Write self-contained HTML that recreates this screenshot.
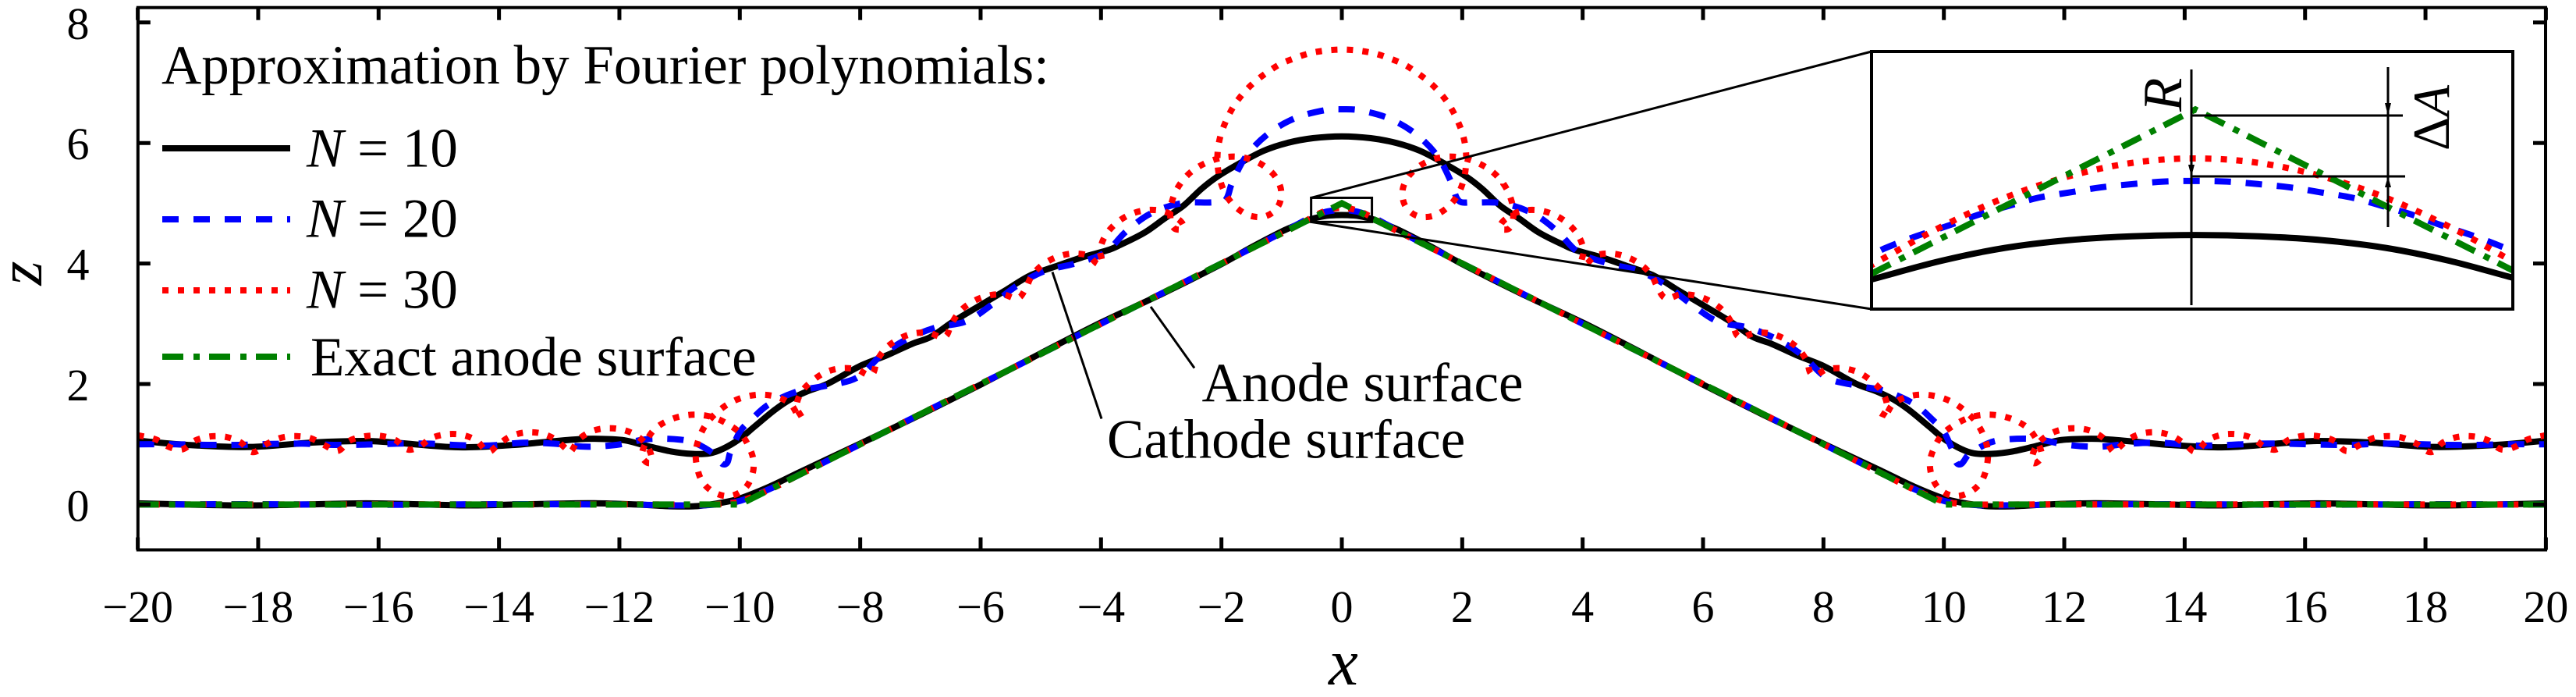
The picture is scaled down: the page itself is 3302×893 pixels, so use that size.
<!DOCTYPE html>
<html lang="en">
<head>
<meta charset="utf-8">
<title>Approximation by Fourier polynomials</title>
<style>
html,body{margin:0;padding:0;background:#fff;overflow:hidden;}
svg{display:block;}
text{font-family:"Liberation Serif","Times New Roman",serif;fill:#000;}
.tick-label{font-size:58px;text-anchor:middle;}
.note{font-size:71px;}
.it{font-style:italic;}
.s10{fill:none;stroke:#000;stroke-width:8;}
.s20{fill:none;stroke:#0000ff;stroke-width:8;stroke-dasharray:21 19;}
.s30{fill:none;stroke:#ff0000;stroke-width:8;stroke-dasharray:8 12;}
.sex{fill:none;stroke:#008000;stroke-width:8;stroke-dasharray:27 13 8 12;}
.thin{stroke:#000;stroke-width:3;fill:none;}
</style>
</head>
<body>
<svg id="chart" xmlns="http://www.w3.org/2000/svg" width="3302" height="893" viewBox="0 0 3302 893">
  <defs>
    <clipPath id="main-clip"><rect x="177" y="10" width="3086" height="695"/></clipPath>
    <clipPath id="inset-clip"><rect x="2399" y="66" width="822" height="330"/></clipPath>
  </defs>
  <rect x="0" y="0" width="3302" height="893" fill="#fff"/>
  <g id="main-series" clip-path="url(#main-clip)"></g>
  <g id="axes"></g>

  <text class="it" x="1722" y="877" font-size="85" text-anchor="middle">x</text>
  <text class="it" font-size="80" text-anchor="middle" transform="translate(53,350) rotate(-90)">z</text>

  <g>
    <text class="note" x="207" y="107">Approximation by Fourier polynomials:</text>
    <line class="s10" x1="208" y1="190" x2="372" y2="190"/>
    <text class="note" x="393" y="213.5"><tspan class="it">N</tspan> = 10</text>
    <line class="s20" x1="208" y1="281" x2="372" y2="281"/>
    <text class="note" x="393" y="303.5"><tspan class="it">N</tspan> = 20</text>
    <line class="s30" x1="208" y1="372" x2="372" y2="372"/>
    <text class="note" x="393" y="394.5"><tspan class="it">N</tspan> = 30</text>
    <line class="sex" x1="208" y1="457" x2="372" y2="457"/>
    <text class="note" x="398" y="481">Exact anode surface</text>
  </g>

  <line class="thin" x1="1349" y1="348.5" x2="1412" y2="536.5"/>
  <line class="thin" x1="1475" y1="393" x2="1531" y2="471.5"/>
  <text class="note" x="1540.5" y="514">Anode surface</text>
  <text class="note" x="1419" y="586.5">Cathode surface</text>

  <g id="zoom-callout"></g>

  <rect x="2399" y="66" width="822" height="330" fill="#fff"/>
  <g id="inset-series" clip-path="url(#inset-clip)"></g>
  <rect x="2399" y="66" width="822" height="330" fill="none" stroke="#000" stroke-width="4"/>

  <g>
    <line class="thin" x1="2809" y1="89" x2="2809" y2="391"/>
    <line class="thin" x1="3061" y1="86" x2="3061" y2="291"/>
    <line class="thin" x1="2809" y1="148" x2="3080" y2="148"/>
    <line class="thin" x1="2809" y1="226" x2="3083" y2="226"/>
    <polygon points="2809,226 2805,211 2813,211" fill="#000"/>
    <polygon points="3061,148 3057,132 3065,132" fill="#000"/>
    <polygon points="3061,226 3057,240 3065,240" fill="#000"/>
    <text class="note it" transform="translate(2796,143) rotate(-90)">R</text>
    <text font-size="67" transform="translate(3139,193) rotate(-90)">Δ<tspan class="it">A</tspan></text>
  </g>
</svg>

<script>
/* axis tick values */
const xTicks = [-20,-18,-16,-14,-12,-10,-8,-6,-4,-2,0,2,4,6,8,10,12,14,16,18,20];
const zTicks = [0,2,4,6,8];
const xTickLabels = ["\u221220","\u221218","\u221216","\u221214","\u221212","\u221210","\u22128","\u22126","\u22124","\u22122","0","2","4","6","8","10","12","14","16","18","20"];
const zTickLabels = ["0","2","4","6","8"];

/* exact anode (lower ridge) */
const exactSurface = [[-20,0],[-10,0],[0,5],[10,0],[20,0]];

/* cathode-side curves: [x, z] */
const n10Lower = [[-20,.02],[-19.2,0],[-18.2,-.015],[-17,.005],[-16.2,.02],[-15.2,0],[-14.5,-.015],[-13.5,.005],[-12.5,.022],[-11.7,0],[-11.1,-.03],[-10.7,-.025],[-10.3,.03],[-10,.1],[-9.5,.3],[-9,.54],[-8,1.01],[-7,1.49],[-6,1.99],[-5,2.51],[-4,3.02],[-3,3.49],[-2,3.99],[-1.5,4.27],[-1,4.53],[-.7,4.66],[-.51,4.736],[-.4,4.765],[-.3,4.785],[-.2,4.797],[-.1,4.803],[0,4.805],
[.1,4.803],[.2,4.797],[.3,4.785],[.4,4.765],[.51,4.736],[.7,4.66],[1,4.53],[1.5,4.27],[2,3.99],[3,3.49],[4,3.02],[5,2.51],[6,1.99],[7,1.49],[8,1.01],[9,.54],[9.5,.3],[10,.1],[10.3,.03],[10.7,-.025],[11.1,-.03],[11.7,0],[12.5,.022],[13.5,.005],[14.5,-.015],[15.2,0],[16.2,.02],[17,.005],[18.2,-.015],[19.2,0],[20,.02]];

const n20Lower = [[-20,0],[-18,.005],[-16,-.005],[-14,.005],[-12,0],[-10.8,-.015],[-10.4,0],[-10,.06],[-9.5,.26],[-9,.5],[-8,1],[-7,1.5],[-6,2],[-5,2.5],[-4,3],[-3,3.5],[-2,4],[-1,4.51],[-.6,4.725],[-.49,4.784],[-.44,4.803],[-.388,4.82],[-.34,4.837],[-.295,4.85],[-.247,4.863],[-.199,4.871],[-.149,4.879],[-.1,4.884],[-.05,4.888],[0,4.889],
[.05,4.888],[.1,4.884],[.149,4.879],[.199,4.871],[.247,4.863],[.295,4.85],[.34,4.837],[.388,4.82],[.44,4.803],[.49,4.784],[.6,4.725],[1,4.51],[2,4],[3,3.5],[4,3],[5,2.5],[6,2],[7,1.5],[8,1],[9,.5],[9.5,.26],[10,.06],[10.4,0],[10.8,-.015],[12,0],[14,.005],[16,-.005],[18,.005],[20,0]];

const n30Lower = [[-20,0],[-18,0],[-16,.003],[-14,0],[-12,.003],[-10.5,0],[-10.2,.02],[-10,.05],[-9.5,.25],[-9,.5],[-8,1],[-7,1.5],[-6,2],[-5,2.5],[-4,3],[-3,3.5],[-2,4],[-1,4.5],[-.7,4.65],[-.5,4.764],[-.4,4.818],[-.3,4.863],[-.2,4.896],[-.1,4.917],[0,4.924],
[.1,4.917],[.2,4.896],[.3,4.863],[.4,4.818],[.5,4.764],[.7,4.65],[1,4.5],[2,4],[3,3.5],[4,3],[5,2.5],[6,2],[7,1.5],[8,1],[9,.5],[9.5,.25],[10,.05],[10.2,.02],[10.5,0],[12,.003],[14,0],[16,.003],[18,0],[20,0]];

/* anode-side approximations: [x, z] */
const n10Upper = [[-20,1.06],[-19.18,.99],[-18.14,.955],[-17.07,1.03],[-16.2,1.054],[-15.77,1.03],[-14.68,.95],[-13.74,.99],[-13.31,1.03],[-12.66,1.085],[-12.35,1.09],[-11.92,1.067],[-11.57,.98],[-11.14,.88],[-10.79,.84],[-10.5,.85],[-10.28,.925],[-10.02,1.076],[-9.76,1.29],[-9.42,1.57],[-9.16,1.745],[-8.9,1.87],[-8.55,2.0],[-8.0,2.3],[-7.55,2.48],[-7.13,2.67],[-6.83,2.78],[-6.48,3.02],[-6.05,3.28],[-5.61,3.54],[-5.18,3.8],[-4.76,3.95],[-4.32,4.1],[-3.89,4.22],[-3.72,4.29],[-3.28,4.51],[-2.94,4.75],[-2.63,4.96],[-2.33,5.24],[-2.07,5.44],[-1.72,5.65],[-1.3,5.87],[-.91,6.0],[-.48,6.08],[0,6.11],
[.48,6.08],[.91,6.0],[1.3,5.87],[1.72,5.65],[2.07,5.44],[2.33,5.24],[2.63,4.96],[2.94,4.75],[3.28,4.51],[3.72,4.29],[3.89,4.22],[4.32,4.1],[4.76,3.95],[5.18,3.8],[5.61,3.54],[6.05,3.28],[6.48,3.02],[6.83,2.78],[7.13,2.67],[7.55,2.48],[8.0,2.3],[8.55,2.0],[8.9,1.87],[9.16,1.745],[9.42,1.57],[9.76,1.29],[10.02,1.076],[10.28,.925],[10.5,.85],[10.79,.84],[11.14,.88],[11.57,.98],[11.92,1.067],[12.35,1.09],[12.66,1.085],[13.31,1.03],[13.74,.99],[14.68,.95],[15.77,1.03],[16.2,1.054],[17.07,1.03],[18.14,.955],[19.18,.99],[20,1.06]];

const n20Upper = [[-20,1],[-19.35,1],[-18.84,.99],[-18.32,.99],[-17.78,1.005],[-17.26,1.01],[-16.74,.99],[-16.22,.995],[-15.7,1.01],[-15.17,1.01],[-14.65,.985],[-14.15,.98],[-13.6,1.025],[-13.09,1.01],[-12.57,.96],[-12.05,.99],[-11.53,1.085],[-10.98,1.076],[-10.72,1.01],[-10.41,.825],[-10.25,.666],[-10.16,.86],[-10.0,1.206],[-9.82,1.4],[-9.52,1.66],[-9.05,1.875],[-8.55,1.975],[-8.056,2.104],[-7.645,2.48],[-7.235,2.739],[-6.76,2.933],[-6.24,3.04],[-5.81,3.32],[-5.4,3.63],[-4.94,3.874],[-4.43,4.0],[-3.93,4.185],[-3.585,4.53],[-3.175,4.83],[-2.665,5.0],[-2.147,5.014],[-1.944,5.04],[-1.827,5.329],[-1.59,5.78],[-1.227,6.15],[-.78,6.41],[-.272,6.547],[0,6.56],
[.272,6.547],[.78,6.41],[1.227,6.15],[1.59,5.78],[1.827,5.329],[1.944,5.04],[2.147,5.014],[2.665,5.0],[3.175,4.83],[3.585,4.53],[3.93,4.185],[4.43,4.0],[4.94,3.874],[5.4,3.63],[5.81,3.32],[6.24,3.04],[6.76,2.933],[7.235,2.739],[7.645,2.48],[8.056,2.104],[8.55,1.975],[9.05,1.875],[9.52,1.66],[9.82,1.4],[10.0,1.206],[10.16,.86],[10.25,.666],[10.41,.825],[10.72,1.01],[10.98,1.076],[11.53,1.085],[12.05,.99],[12.57,.96],[13.09,1.01],[13.6,1.025],[14.15,.98],[14.65,.985],[15.17,1.01],[15.7,1.01],[16.22,.995],[16.74,.99],[17.26,1.01],[17.78,1.005],[18.32,.99],[18.84,.99],[19.35,1],[20,1]];

const n30Upper = [[-20,1.15],[-19.7,1.08],[-19.48,.955],[-19.26,.915],[-19.05,1.06],[-18.79,1.13],[-18.53,1.12],[-18.29,1.03],[-18.09,.87],[-17.87,1.0],[-17.63,1.105],[-17.38,1.135],[-17.13,1.1],[-16.89,.98],[-16.68,.89],[-16.49,1.055],[-16.24,1.13],[-15.98,1.14],[-15.72,1.07],[-15.52,.915],[-15.33,.955],[-15.13,1.1],[-14.87,1.165],[-14.61,1.155],[-14.37,1.06],[-14.18,.88],[-14.04,.97],[-13.83,1.12],[-13.585,1.193],[-13.317,1.184],[-13.08,1.09],[-12.885,.925],[-12.82,.87],[-12.68,1.076],[-12.46,1.215],[-12.21,1.266],[-11.94,1.24],[-11.71,1.14],[-11.53,.96],[-11.48,.7],[-11.62,.787],[-11.56,1.03],[-11.42,1.245],[-11.2,1.39],[-10.95,1.47],[-10.69,1.49],[-10.43,1.443],[-10.2,1.335],[-9.99,1.18],[-9.85,.964],[-9.77,.714],[-9.805,.455],[-9.94,.243],[-10.18,.14],[-10.43,.204],[-10.62,.377],[-10.71,.619],[-10.73,.882],[-10.665,1.133],[-10.54,1.361],[-10.36,1.547],[-10.15,1.694],[-9.905,1.789],[-9.64,1.823],[-9.38,1.785],[-9.157,1.668],[-8.984,1.443],[-9.058,1.62],[-8.976,1.867],[-8.79,2.057],[-8.574,2.195],[-8.324,2.26],[-8.064,2.246],[-7.818,2.156],[-7.723,2.385],[-7.572,2.596],[-7.36,2.747],[-7.118,2.838],[-6.855,2.847],[-6.6,2.782],[-6.488,2.993],[-6.341,3.209],[-6.129,3.369],[-5.887,3.464],[-5.628,3.486],[-5.382,3.425],[-5.261,3.568],[-5.149,3.797],[-4.967,3.982],[-4.734,4.107],[-4.479,4.164],[-4.22,4.133],[-4.008,3.991],[-4.017,4.22],[-3.931,4.457],[-3.758,4.66],[-3.542,4.802],[-3.292,4.88],[-3.033,4.88],[-2.808,4.798],[-2.626,4.604],[-2.786,4.587],[-2.851,4.833],[-2.799,5.1],[-2.683,5.325],[-2.506,5.519],[-2.285,5.657],[-2.043,5.744],[-1.78,5.774],[-1.525,5.731],[-1.292,5.618],[-1.102,5.437],[-1.007,5.2],[-1.058,4.949],[-1.253,4.789],[-1.512,4.789],[-1.741,4.919],[-1.909,5.113],[-2.013,5.351],[-2.061,5.61],[-2.061,5.869],[-2.013,6.128],[-1.922,6.37],[-1.801,6.603],[-1.65,6.81],[-1.464,7.0],[-1.257,7.16],[-1.037,7.302],[-.799,7.402],[-.553,7.484],[-.294,7.531],[0,7.55],
[.294,7.531],[.553,7.484],[.799,7.402],[1.037,7.302],[1.257,7.16],[1.464,7.0],[1.65,6.81],[1.801,6.603],[1.922,6.37],[2.013,6.128],[2.061,5.869],[2.061,5.61],[2.013,5.351],[1.909,5.113],[1.741,4.919],[1.512,4.789],[1.253,4.789],[1.058,4.949],[1.007,5.2],[1.102,5.437],[1.292,5.618],[1.525,5.731],[1.78,5.774],[2.043,5.744],[2.285,5.657],[2.506,5.519],[2.683,5.325],[2.799,5.1],[2.851,4.833],[2.786,4.587],[2.626,4.604],[2.808,4.798],[3.033,4.88],[3.292,4.88],[3.542,4.802],[3.758,4.66],[3.931,4.457],[4.017,4.22],[4.008,3.991],[4.22,4.133],[4.479,4.164],[4.734,4.107],[4.967,3.982],[5.149,3.797],[5.261,3.568],[5.382,3.425],[5.628,3.486],[5.887,3.464],[6.129,3.369],[6.341,3.209],[6.488,2.993],[6.6,2.782],[6.855,2.847],[7.118,2.838],[7.36,2.747],[7.572,2.596],[7.723,2.385],[7.818,2.156],[8.064,2.246],[8.324,2.26],[8.574,2.195],[8.79,2.057],[8.976,1.867],[9.058,1.62],[8.984,1.443],[9.157,1.668],[9.38,1.785],[9.64,1.823],[9.905,1.789],[10.15,1.694],[10.36,1.547],[10.54,1.361],[10.665,1.133],[10.73,.882],[10.71,.619],[10.62,.377],[10.43,.204],[10.18,.14],[9.94,.243],[9.805,.455],[9.77,.714],[9.85,.964],[9.99,1.18],[10.2,1.335],[10.43,1.443],[10.69,1.49],[10.95,1.47],[11.2,1.39],[11.42,1.245],[11.56,1.03],[11.62,.787],[11.48,.7],[11.53,.96],[11.71,1.14],[11.94,1.24],[12.21,1.266],[12.46,1.215],[12.68,1.076],[12.82,.87],[12.885,.925],[13.08,1.09],[13.317,1.184],[13.585,1.193],[13.83,1.12],[14.04,.97],[14.18,.88],[14.37,1.06],[14.61,1.155],[14.87,1.165],[15.13,1.1],[15.33,.955],[15.52,.915],[15.72,1.07],[15.98,1.14],[16.24,1.13],[16.49,1.055],[16.68,.89],[16.89,.98],[17.13,1.1],[17.38,1.135],[17.63,1.105],[17.87,1.0],[18.09,.87],[18.29,1.03],[18.53,1.12],[18.79,1.13],[19.05,1.06],[19.26,.915],[19.48,.955],[19.7,1.08],[20,1.15]];

/* zoom window of the inset */
const zoomXRange = [-0.51, 0.5];
const zoomZRange = [4.69, 5.09];

const NS = 'http://www.w3.org/2000/svg';
const PLOT = {left:176.8, right:3263, top:9.7, bottom:704.5};
const INSET = {left:2399, right:3221, top:66, bottom:396};

function sx(x){ return 1720 + x * 77.17; }
function sz(z){ return 646.4 - z * 77.2; }
function ix(x){ return INSET.left + (x - zoomXRange[0]) / (zoomXRange[1] - zoomXRange[0]) * (INSET.right - INSET.left); }
function iz(z){ return INSET.bottom - (z - zoomZRange[0]) / (zoomZRange[1] - zoomZRange[0]) * (INSET.bottom - INSET.top); }

function mk(tag, attrs, parent){
  const el = document.createElementNS(NS, tag);
  for (const k in attrs) el.setAttribute(k, attrs[k]);
  parent.appendChild(el);
  return el;
}

/* keep only the part of a series inside the zoom window (x must increase) */
function sliceToWindow(pts){
  const lo = zoomXRange[0], hi = zoomXRange[1], out = [];
  function at(limit, a, b){ return [limit, a[1] + (b[1] - a[1]) * (limit - a[0]) / (b[0] - a[0])]; }
  for (let i = 0; i < pts.length; i++){
    const q = pts[i], prev = pts[i - 1];
    if (prev && prev[0] < lo && q[0] > lo) out.push(at(lo, prev, q));
    if (prev && prev[0] < hi && q[0] > hi) out.push(at(hi, prev, q));
    if (q[0] >= lo && q[0] <= hi) out.push(q);
  }
  return out;
}

function smoothPath(pts, fx, fz){
  const p = pts.map(function(q){ return [fx(q[0]), fz(q[1])]; });
  function tangent(i){
    const a = p[Math.max(i - 1, 0)], c = p[Math.min(i + 1, p.length - 1)];
    const dx = c[0] - a[0], dy = c[1] - a[1], m = Math.hypot(dx, dy) || 1;
    return [dx / m, dy / m];
  }
  let d = 'M' + p[0][0].toFixed(2) + ' ' + p[0][1].toFixed(2);
  for (let i = 0; i < p.length - 1; i++){
    const b = p[i], c = p[i + 1], h = Math.hypot(c[0] - b[0], c[1] - b[1]) / 3;
    const t1 = tangent(i), t2 = tangent(i + 1);
    d += 'C' + (b[0] + t1[0] * h).toFixed(2) + ' ' + (b[1] + t1[1] * h).toFixed(2) + ' ' +
         (c[0] - t2[0] * h).toFixed(2) + ' ' + (c[1] - t2[1] * h).toFixed(2) + ' ' +
         c[0].toFixed(2) + ' ' + c[1].toFixed(2);
  }
  return d;
}
function straightPath(pts, fx, fz){
  return pts.map(function(q, i){ return (i ? 'L' : 'M') + fx(q[0]).toFixed(2) + ' ' + fz(q[1]).toFixed(2); }).join('');
}

function drawCurve(parent, d, cls, name){
  const el = mk('path', {d: d, 'class': cls}, parent);
  
  
  return el;
}

const mainG = document.getElementById('main-series');
drawCurve(mainG, smoothPath(n10Upper, sx, sz), 's10', 'anode-approximation-n10');
drawCurve(mainG, smoothPath(n10Lower, sx, sz), 's10', 'cathode-curve-n10');
drawCurve(mainG, smoothPath(n20Upper, sx, sz), 's20', 'anode-approximation-n20');
drawCurve(mainG, smoothPath(n20Lower, sx, sz), 's20', 'cathode-curve-n20');
drawCurve(mainG, smoothPath(n30Upper, sx, sz), 's30', 'anode-approximation-n30');
drawCurve(mainG, smoothPath(n30Lower, sx, sz), 's30', 'cathode-curve-n30');
drawCurve(mainG, straightPath(exactSurface, sx, sz), 'sex', 'exact-anode-surface');

const insetG = document.getElementById('inset-series');
drawCurve(insetG, smoothPath(sliceToWindow(n10Lower), ix, iz), 's10', 'inset-curve-n10');
const inset20 = drawCurve(insetG, smoothPath(sliceToWindow(n20Lower), ix, iz), 's20', 'inset-curve-n20');
inset20.style.strokeDashoffset = '26';
const inset30 = drawCurve(insetG, smoothPath(sliceToWindow(n30Lower), ix, iz), 's30', 'inset-curve-n30');
inset30.style.strokeDashoffset = '5';
drawCurve(insetG, straightPath(sliceToWindow(exactSurface), ix, iz), 'sex', 'inset-exact-surface');

/* axes */
const axesG = document.getElementById('axes');
const frame = mk('rect', {x: PLOT.left, y: PLOT.top, width: PLOT.right - PLOT.left, height: PLOT.bottom - PLOT.top, fill: 'none', stroke: '#000', 'stroke-width': 4}, axesG);



xTicks.forEach(function(v, i){
  const px = sx(v);
  const b = mk('line', {x1: px, x2: px, y1: PLOT.bottom, y2: PLOT.bottom - 16, stroke: '#000', 'stroke-width': 5}, axesG);
  
  
  const t = mk('line', {x1: px, x2: px, y1: PLOT.top, y2: PLOT.top + 16, stroke: '#000', 'stroke-width': 5}, axesG);
  
  
  const lab = mk('text', {x: px, y: 797, 'class': 'tick-label'}, axesG);
  lab.textContent = xTickLabels[i];
  
  
});

zTicks.forEach(function(v, i){
  const py = sz(v);
  const l = mk('line', {x1: PLOT.left, x2: PLOT.left + 16, y1: py, y2: py, stroke: '#000', 'stroke-width': 5}, axesG);
  
  
  const r = mk('line', {x1: PLOT.right, x2: PLOT.right - 16, y1: py, y2: py, stroke: '#000', 'stroke-width': 5}, axesG);
  
  
  const lab = mk('text', {x: 100, y: py + 21, 'class': 'tick-label'}, axesG);
  lab.textContent = zTickLabels[i];
  
  
});

/* zoom rectangle and connector lines */
const callout = document.getElementById('zoom-callout');
const box = mk('rect', {x: sx(zoomXRange[0]), y: sz(zoomZRange[1]), width: sx(zoomXRange[1]) - sx(zoomXRange[0]), height: sz(zoomZRange[0]) - sz(zoomZRange[1]), 'class': 'thin'}, callout);


const c1 = mk('line', {x1: sx(zoomXRange[0]), y1: sz(zoomZRange[1]), x2: INSET.left, y2: INSET.top, 'class': 'thin'}, callout);


const c2 = mk('line', {x1: sx(zoomXRange[0]), y1: sz(zoomZRange[0]), x2: INSET.left, y2: INSET.bottom, 'class': 'thin'}, callout);


</script>
</body>
</html>
